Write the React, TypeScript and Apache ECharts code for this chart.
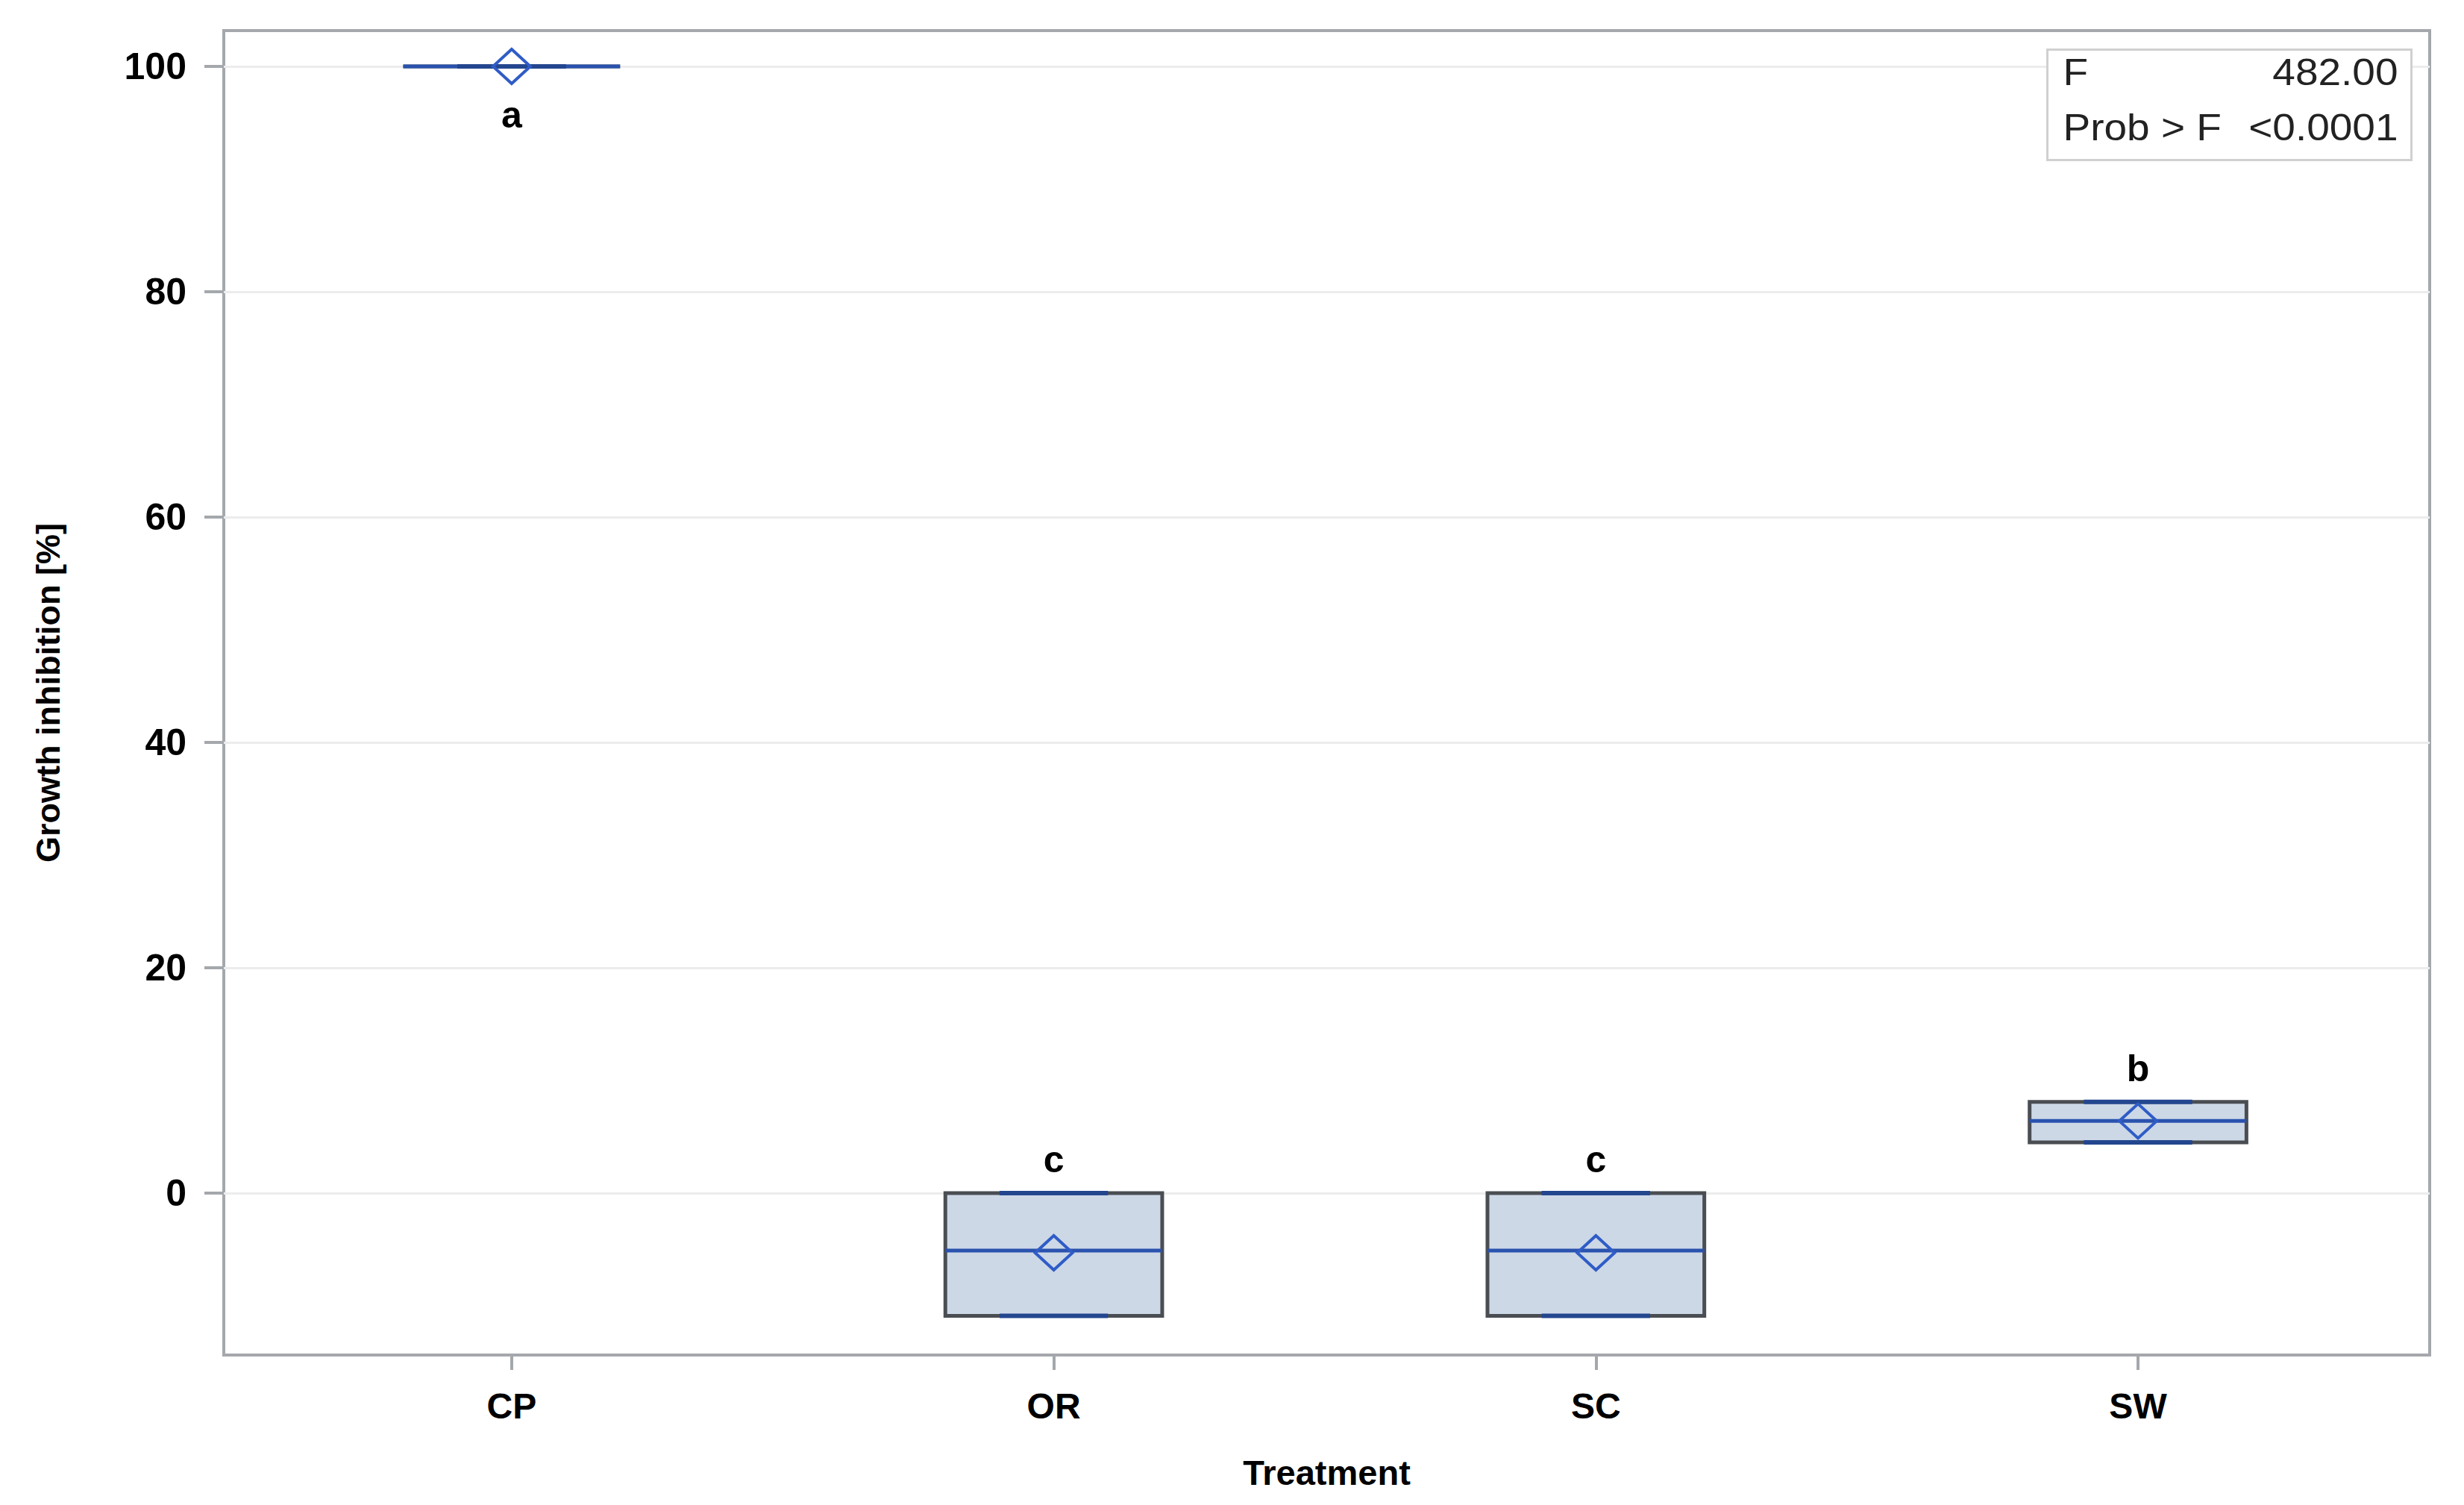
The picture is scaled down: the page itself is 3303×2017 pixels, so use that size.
import React, { useEffect, useRef } from 'react';
import * as echarts from 'echarts';

// ---- data ----
const categories = ['CP', 'OR', 'SC', 'SW'];
const minValues = [100, -10.9, -10.9, 4.5];
const q1Values = [100, -10.9, -10.9, 4.5];
const medianValues = [100, -5.1, -5.1, 6.4];
const q3Values = [100, 0, 0, 8.1];
const maxValues = [100, 0, 0, 8.1];
const meanValues = [100, -5.3, -5.3, 6.4];
const groupLetters = ['a', 'c', 'c', 'b'];
const yTicks = [0, 20, 40, 60, 80, 100];
const statLabels = ['F', 'Prob > F'];
const statValues = ['482.00', '<0.0001'];

const FONT = '"Liberation Sans", Arial, Helvetica, sans-serif';
const BOX_FILL = '#cdd8e7';
const BOX_EDGE = '#4a4e53';
const MEDIAN_C = '#2a52ae';
const CAP_C = '#23468f';
const MEAN_C = '#2f5cc6';
const BORDER_C = '#a4a8ac';

const W = 3303;
const H = 2017;

export default function App() {
  const ref = useRef<HTMLDivElement>(null);

  useEffect(() => {
    if (!ref.current) return;
    const chart = echarts.init(ref.current, undefined, { renderer: 'svg', width: W, height: H });

    const data = categories.map((_, i) => [
      i,
      minValues[i],
      q1Values[i],
      medianValues[i],
      q3Values[i],
      maxValues[i],
      meanValues[i],
    ]);

    const renderItem = (params: any, api: any) => {
      const idx = api.value(0);
      const vMin = api.value(1);
      const vQ1 = api.value(2);
      const vMed = api.value(3);
      const vQ3 = api.value(4);
      const vMax = api.value(5);
      const vMean = api.value(6);
      const cx = api.coord([idx, vMed])[0];
      const yMin = api.coord([idx, vMin])[1];
      const yQ1 = api.coord([idx, vQ1])[1];
      const yMed = api.coord([idx, vMed])[1];
      const yQ3 = api.coord([idx, vQ3])[1];
      const yMax = api.coord([idx, vMax])[1];
      const yMean = api.coord([idx, vMean])[1];
      const hb = api.size([0.4, 0])[0] / 2;
      const hc = hb / 2;
      const dw = 25;
      const dh = 23;

      const nearTop = vMax >= 95;
      const letter = groupLetters[params.dataIndex];
      const letterEl = nearTop
        ? {
            type: 'text',
            style: {
              text: letter,
              x: cx,
              y: yMin + 40,
              align: 'center',
              verticalAlign: 'top',
              font: `bold 50px ${FONT}`,
              fill: '#000',
            },
          }
        : {
            type: 'text',
            style: {
              text: letter,
              x: cx,
              y: yMax - 20,
              align: 'center',
              verticalAlign: 'bottom',
              font: `bold 50px ${FONT}`,
              fill: '#000',
            },
          };

      return {
        type: 'group',
        children: [
          {
            type: 'rect',
            shape: { x: cx - hb, y: yQ3, width: hb * 2, height: Math.max(yQ1 - yQ3, 0) },
            style: { fill: BOX_FILL, stroke: BOX_EDGE, lineWidth: 5 },
          },
          {
            type: 'line',
            shape: { x1: cx, y1: yQ3, x2: cx, y2: yMax },
            style: { stroke: CAP_C, lineWidth: 4 },
          },
          {
            type: 'line',
            shape: { x1: cx, y1: yQ1, x2: cx, y2: yMin },
            style: { stroke: CAP_C, lineWidth: 4 },
          },
          {
            type: 'line',
            shape: { x1: cx - hb, y1: yMed, x2: cx + hb, y2: yMed },
            style: { stroke: MEDIAN_C, lineWidth: 5 },
          },
          {
            type: 'line',
            shape: { x1: cx - hc, y1: yMax, x2: cx + hc, y2: yMax },
            style: { stroke: CAP_C, lineWidth: 6 },
          },
          {
            type: 'line',
            shape: { x1: cx - hc, y1: yMin, x2: cx + hc, y2: yMin },
            style: { stroke: CAP_C, lineWidth: 6 },
          },
          {
            type: 'polygon',
            shape: {
              points: [
                [cx, yMean - dh],
                [cx + dw, yMean],
                [cx, yMean + dh],
                [cx - dw, yMean],
              ],
            },
            style: { fill: 'none', stroke: MEAN_C, lineWidth: 4 },
          },
          letterEl,
        ],
      };
    };

    const statBox = {
      type: 'group',
      left: 2743,
      top: 65,
      z: 100,
      children: [
        {
          type: 'rect',
          z: 100,
          shape: { x: 0, y: 0, width: 488, height: 148 },
          style: { fill: '#fff', stroke: '#d0d0d0', lineWidth: 3 },
        },
        ...statLabels.map((t, i) => ({
          type: 'text',
          z: 101,
          x: 21,
          y: 30 + i * 74,
          scaleX: 1.1,
          style: {
            text: t,
            x: 0,
            y: 0,
            align: 'left',
            verticalAlign: 'middle',
            font: `50px ${FONT}`,
            fill: '#222',
          },
        })),
        ...statValues.map((t, i) => ({
          type: 'text',
          z: 101,
          x: 470,
          y: 30 + i * 74,
          scaleX: 1.1,
          style: {
            text: t,
            x: 0,
            y: 0,
            align: 'right',
            verticalAlign: 'middle',
            font: `50px ${FONT}`,
            fill: '#222',
          },
        })),
      ],
    };

    const option: any = {
      animation: false,
      backgroundColor: '#fff',
      grid: {
        left: 300,
        right: 46,
        top: 41,
        bottom: 201,
        show: true,
        borderColor: BORDER_C,
        borderWidth: 4,
        backgroundColor: 'transparent',
      },
      xAxis: {
        type: 'value',
        min: -0.531,
        max: 3.538,
        name: 'Treatment',
        nameLocation: 'middle',
        nameGap: 134,
        nameTextStyle: { fontFamily: FONT, fontWeight: 'bold', fontSize: 47, color: '#000' },
        axisLine: { show: false, onZero: false },
        axisTick: {
          show: true,
          customValues: categories.map((_, i) => i),
          length: 20,
          lineStyle: { color: BORDER_C, width: 4 },
        },
        axisLabel: {
          customValues: categories.map((_, i) => i),
          formatter: (v: number) => categories[Math.round(v)] ?? '',
          margin: 44,
          fontFamily: FONT,
          fontWeight: 'bold',
          fontSize: 48,
          color: '#000',
        },
        splitLine: { show: false },
      },
      yAxis: {
        type: 'value',
        min: -14.37,
        max: 103.18,
        name: 'Growth inhibition [%]',
        nameLocation: 'middle',
        nameGap: 213,
        nameTextStyle: { fontFamily: FONT, fontWeight: 'bold', fontSize: 45, color: '#000' },
        axisLine: { show: false, onZero: false },
        axisTick: {
          show: true,
          customValues: yTicks,
          length: 26,
          lineStyle: { color: BORDER_C, width: 4 },
        },
        axisLabel: {
          customValues: yTicks,
          margin: 50,
          fontFamily: FONT,
          fontWeight: 'bold',
          fontSize: 50,
          color: '#000',
        },
        splitLine: { show: true, lineStyle: { color: '#ececec', width: 3 } },
      },
      graphic: [statBox],
      series: [
        {
          type: 'custom',
          renderItem,
          data,
          encode: { x: 0, y: [1, 2, 3, 4, 5, 6] },
          clip: false,
          z: 5,
        },
      ],
    };

    chart.setOption(option);
    return () => chart.dispose();
  }, []);

  return (
    <div
      ref={ref}
      style={{ position: 'fixed', left: 0, top: 0, width: W, height: H, background: '#fff' }}
    />
  );
}
